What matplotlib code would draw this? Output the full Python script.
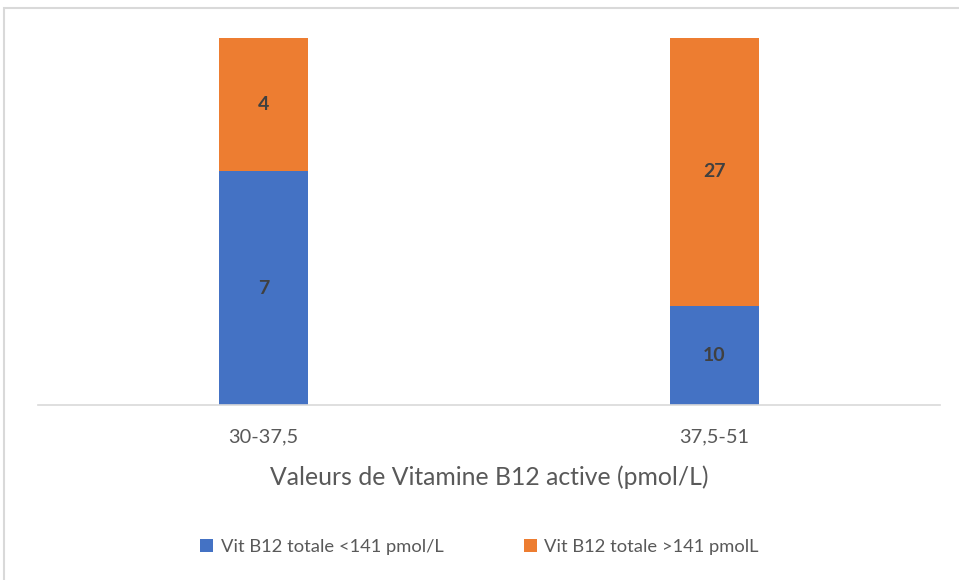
import matplotlib.pyplot as plt
from matplotlib.patches import Rectangle

plt.rcParams['font.family'] = ['Lato', 'DejaVu Sans']

categories = ['30-37,5', '37,5-51']
bas = [7, 10]
haut = [4, 27]
noms = ['Vit B12 totale <141 pmol/L', 'Vit B12 totale >141 pmolL']

bleu = '#4472C4'
orange = '#ED7D31'

totaux = [a + b for a, b in zip(bas, haut)]
p_bas = [a / t for a, t in zip(bas, totaux)]
p_haut = [b / t for b, t in zip(haut, totaux)]

fig = plt.figure(figsize=(9.59, 5.8), dpi=100)
ax = fig.add_axes([38 / 959, 1 - 405 / 580, 902 / 959, 367 / 580])

x = range(len(categories))
b1 = ax.bar(x, p_bas, width=0.197, color=bleu, label=noms[0])
b2 = ax.bar(x, p_haut, width=0.197, bottom=p_bas, color=orange, label=noms[1])

for barres, vals in ((b1, bas), (b2, haut)):
    for r, v in zip(barres, vals):
        ax.text(r.get_x() + r.get_width() / 2, r.get_y() + r.get_height() / 2, str(v),
                ha='center', va='center', fontsize=14, fontweight='bold', color='#404040')

ax.set_xlim(-0.5, 1.5)
ax.set_ylim(0, 1)
ax.set_yticks([])
ax.set_xticks(list(x))
ax.set_xticklabels(categories, fontsize=14.4, color='#595959')
ax.tick_params(axis='x', length=0, pad=17)
for s in ['top', 'right', 'left']:
    ax.spines[s].set_visible(False)
ax.spines['bottom'].set_color('#d9d9d9')
ax.spines['bottom'].set_linewidth(1.2)
ax.set_xlabel('Valeurs de Vitamine B12 active (pmol/L)', fontsize=17.8, color='#595959', labelpad=14)

ax.legend(loc='center', bbox_to_anchor=(0.5, 1 - 547 / 580), bbox_transform=fig.transFigure,
          ncol=2, frameon=False, fontsize=13.2, labelcolor='#595959',
          handlelength=0.7, handleheight=0.7, handletextpad=0.4, columnspacing=4.4)

fig.patches.append(Rectangle((4 / 959, -0.01), 960 / 959, 1 - 8 / 580 + 0.01,
                             transform=fig.transFigure, fill=False,
                             edgecolor='#d9d9d9', linewidth=1.5))

fig.savefig('out.png', dpi=100)
